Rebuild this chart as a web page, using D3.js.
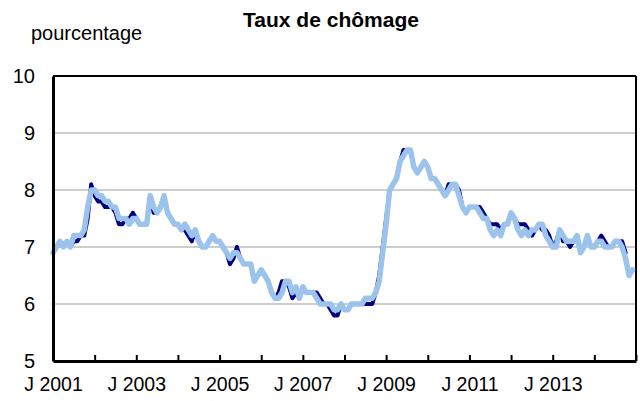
<!DOCTYPE html>
<html>
<head>
<meta charset="utf-8">
<script src="https://cdn.jsdelivr.net/npm/d3@7"></script>
<style>
  body { margin: 0; background: #fff; }
  text { font-family: "Liberation Sans", Arial, sans-serif; fill: #000; }
</style>
</head>
<body>
<div id="chart"></div>
<script>
// chart data, monthly from January 2001
var firstYear = 2001;
var yTicks = [5, 6, 7, 8, 9, 10];
var xLabelYears = [2001, 2003, 2005, 2007, 2009, 2011, 2013];

var darkSeries = [
  6.9, 7.0, 7.1, 7.0, 7.1, 7.0, 7.1, 7.1, 7.2, 7.2, 7.5, 8.1,
  7.9, 7.8, 7.8, 7.7, 7.7, 7.7, 7.6, 7.4, 7.4, 7.5, 7.5, 7.6,
  7.5, 7.4, 7.4, 7.4, 7.9, 7.6, 7.6, 7.7, 7.9, 7.6, 7.5, 7.4,
  7.4, 7.3, 7.3, 7.2, 7.1, 7.3, 7.1, 7.0, 7.0, 7.1, 7.2, 7.1,
  7.1, 7.0, 6.9, 6.7, 6.8, 7.0, 6.8, 6.7, 6.7, 6.7, 6.4, 6.5,
  6.6, 6.5, 6.4, 6.2, 6.1, 6.2, 6.4, 6.4, 6.3, 6.1, 6.2, 6.1,
  6.3, 6.2, 6.2, 6.2, 6.2, 6.1, 6.0, 6.0, 5.9, 5.8, 5.8, 6.0,
  5.9, 5.9, 6.0, 6.0, 6.0, 6.0, 6.0, 6.0, 6.0, 6.2, 6.5, 7.0,
  7.5, 8.0, 8.1, 8.2, 8.5, 8.7, 8.7, 8.7, 8.4, 8.3, 8.4, 8.5,
  8.4, 8.2, 8.2, 8.1, 8.0, 7.9, 8.1, 8.1, 8.1, 8.0, 7.7, 7.6,
  7.7, 7.7, 7.7, 7.7, 7.6, 7.5, 7.4, 7.4, 7.4, 7.3, 7.4, 7.4,
  7.6, 7.5, 7.4, 7.4, 7.4, 7.3, 7.2, 7.3, 7.4, 7.3, 7.3, 7.2,
  7.0, 7.1, 7.3, 7.1, 7.1, 7.0, 7.1, 7.1, 7.0, 7.0, 7.2, 7.0,
  7.0, 7.1, 7.2, 7.1, 7.0, 7.0, 7.1, 7.1, 7.1, 6.9, null, null
];

var lightSeries = [
  6.9, 7.0, 7.1, 7.0, 7.1, 7.0, 7.2, 7.2, 7.2, 7.3, 7.7, 8.0,
  8.0, 7.9, 7.9, 7.8, 7.8, 7.7, 7.7, 7.5, 7.5, 7.5, 7.4, 7.5,
  7.5, 7.4, 7.4, 7.4, 7.9, 7.7, 7.6, 7.7, 7.9, 7.6, 7.5, 7.4,
  7.4, 7.3, 7.4, 7.3, 7.2, 7.3, 7.1, 7.0, 7.0, 7.1, 7.2, 7.1,
  7.1, 7.0, 6.9, 6.8, 6.9, 6.9, 6.8, 6.7, 6.7, 6.7, 6.4, 6.5,
  6.6, 6.5, 6.4, 6.2, 6.1, 6.1, 6.2, 6.4, 6.4, 6.2, 6.3, 6.1,
  6.3, 6.2, 6.2, 6.2, 6.1, 6.0, 6.0, 6.0, 6.0, 5.9, 5.9, 6.0,
  5.9, 5.9, 6.0, 6.0, 6.0, 6.0, 6.1, 6.1, 6.1, 6.2, 6.4, 6.9,
  7.4, 8.0, 8.1, 8.2, 8.5, 8.6, 8.7, 8.7, 8.4, 8.3, 8.4, 8.5,
  8.4, 8.2, 8.2, 8.1, 8.0, 7.9, 8.0, 8.1, 8.1, 7.9, 7.7, 7.6,
  7.7, 7.7, 7.7, 7.6, 7.5, 7.5, 7.3, 7.2, 7.3, 7.2, 7.4, 7.4,
  7.6, 7.5, 7.3, 7.2, 7.3, 7.2, 7.3, 7.3, 7.4, 7.4, 7.2, 7.1,
  7.0, 7.0, 7.3, 7.2, 7.1, 7.1, 7.1, 7.2, 6.9, 7.0, 7.2, 7.0,
  7.0, 7.1, 7.1, 7.0, 7.0, 7.0, 7.1, 7.1, 7.0, 6.8, 6.5, 6.6
];

// dimensions
var W = 640, H = 401;
var margin = {top: 76, right: 4, bottom: 40, left: 53};
var width = W - margin.left - margin.right,
    height = H - margin.top - margin.bottom;

var svg = d3.select("#chart")
  .append("svg")
    .attr("width", W)
    .attr("height", H);

var g = svg.append("g")
  .attr("transform", "translate(" + margin.left + "," + margin.top + ")");

// scales (x in months since Jan 2001)
var nMonths = 14 * 12;
var x = d3.scaleLinear().domain([0, nMonths]).range([0, width]);
var y = d3.scaleLinear().domain([5, 10]).range([height, 0]);

// gridlines
g.append("g")
  .selectAll("line")
  .data(yTicks.slice(1, -1))
  .enter().append("line")
    .attr("x1", 0).attr("x2", width)
    .attr("y1", function(d) { return y(d); })
    .attr("y2", function(d) { return y(d); })
    .style("stroke", "#bdbdbd")
    .style("stroke-width", 1.5);

// top and right border
g.append("line").attr("x1", 0).attr("x2", width).attr("y1", 0).attr("y2", 0)
  .style("stroke", "#000").style("stroke-width", 2);
g.append("line").attr("x1", width).attr("x2", width).attr("y1", 0).attr("y2", height)
  .style("stroke", "#000").style("stroke-width", 2);

// lines
var line = d3.line()
  .defined(function(d) { return d != null; })
  .x(function(d, i) { return x(i); })
  .y(function(d) { return y(d); });

g.append("path")
  .datum(darkSeries)
  .attr("d", line)
  .style("fill", "none")
  .style("stroke", "#000080")
  .style("stroke-width", 4)
  .style("stroke-linejoin", "round")
  .style("stroke-linecap", "round");

g.append("path")
  .datum(lightSeries)
  .attr("d", line)
  .style("fill", "none")
  .style("stroke", "#9cc3ec")
  .style("stroke-width", 5.5)
  .style("stroke-linejoin", "round")
  .style("stroke-linecap", "round");

// x axis: tick every year, label every other year
var xAxis = d3.axisBottom(x)
  .tickValues(d3.range(0, nMonths + 1, 12))
  .tickSizeInner(-6)
  .tickSizeOuter(0)
  .tickPadding(16)
  .tickFormat(function(d) {
    var yr = firstYear + d / 12;
    return xLabelYears.indexOf(yr) >= 0 ? "J " + yr : "";
  });

var gx = g.append("g")
  .attr("transform", "translate(0," + height + ")")
  .call(xAxis);
gx.select(".domain").style("stroke", "#000").style("stroke-width", 3);
gx.selectAll(".tick line").style("stroke", "#000").style("stroke-width", 2);
gx.selectAll("text").style("font-size", "19.5px").style("font-family", "Liberation Sans, Arial, sans-serif");

// y axis
var yAxis = d3.axisLeft(y)
  .tickValues(yTicks)
  .tickSize(0)
  .tickPadding(18)
  .tickFormat(d3.format("d"));

var gy = g.append("g").call(yAxis);
gy.select(".domain").style("stroke", "#000").style("stroke-width", 3);
gy.selectAll("text").style("font-size", "20px").style("font-family", "Liberation Sans, Arial, sans-serif");

// titles
svg.append("text")
  .attr("x", 331).attr("y", 27)
  .attr("text-anchor", "middle")
  .style("font-size", "21px")
  .style("font-weight", "bold")
  .text("Taux de chômage");

svg.append("text")
  .attr("x", 31).attr("y", 40)
  .style("font-size", "20px")
  .text("pourcentage");
</script>
</body>
</html>
